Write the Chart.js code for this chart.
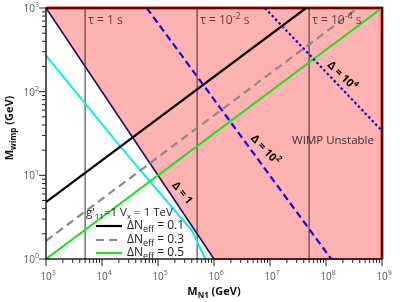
<!DOCTYPE html>
<html>
<head>
<meta charset="utf-8">
<script src="https://cdn.jsdelivr.net/npm/chart.js@4.4.0/dist/chart.umd.min.js"></script>
<style>
  html, body { margin: 0; padding: 0; background: #fff; }
  #wrap { width: 415px; height: 302px; }
</style>
</head>
<body>
<div id="wrap"><canvas id="chart"></canvas></div>
<script>
// ── Data (log-log axes in GeV) ───────────────────────────────────────────────
const X_RANGE = [1e3, 1e9];
const Y_RANGE = [1, 1e3];

// WIMP unstable region: boundary Δ = 1 then along the bottom edge
const unstableEdge     = [{ x: 1e3, y: 1e3 }, { x: 1e6, y: 1 }, { x: 1e9, y: 1 }];
const unstableTopRight = [{ x: 1e3, y: 1e3 }, { x: 1e9, y: 1e3 }, { x: 1e9, y: 1 }];

const neff01   = [{ x: 1e3, y: 4.8 },  { x: 4.4e7, y: 1e3 }];
const neff03   = [{ x: 1e3, y: 1.65 }, { x: 3.7e8, y: 1e3 }];
const neff05   = [{ x: 1e3, y: 1 },    { x: 1e9,   y: 1e3 }];
const cyanLine = [{ x: 1e3, y: 270 },  { x: 2.4e4, y: 20 }, { x: 4.0e5, y: 2.2 }, { x: 7.0e5, y: 1 }];
const delta1e2 = [{ x: 6.3e4, y: 1e3 }, { x: 1.24e8, y: 1 }];
const delta1e4 = [{ x: 8.1e6, y: 1e3 }, { x: 1e9, y: 34 }];

const tauMasses = [5e3, 5e5, 5e7];
const tauLabels = [
    [['τ = 1 s', 0]],
    [['τ = 10', 0], ['-2', 1], [' s', 0]],
    [['τ = 10', 0], ['-4', 1], [' s', 0]],
];
const legendNames = ['0.1', '0.3', '0.5'];
const minorSteps  = [2, 3, 4, 5, 6, 7, 8, 9];

// ── Colours ───────────────────────────────────────────────────────────────────
const PINK  = '#ffb2b2';
const RED   = '#ee1c1c';
const NAVY  = '#22105e';
const FONT  = "'Open Sans', 'Noto Sans', sans-serif";

// ── Helper — draw text with sub/superscripts ──────────────────────────────────
// parts: [text, kind]  kind 0 = normal, 1 = superscript, -1 = subscript
function richText(ctx, parts, x, y, align, size, weight = '400') {
    const fontFor = (k) => `${weight} ${k ? Math.round(size * 0.72) : size}px ${FONT}`;
    let width = 0;
    parts.forEach(([t, k]) => { ctx.font = fontFor(k); width += ctx.measureText(t).width; });
    let cx = align === 'center' ? x - width / 2 : align === 'right' ? x - width : x;
    ctx.textAlign = 'left';
    ctx.textBaseline = 'middle';
    parts.forEach(([t, k]) => {
        ctx.font = fontFor(k);
        const dy = k === 1 ? -size * 0.38 : k === -1 ? size * 0.32 : 0;
        ctx.fillText(t, cx, y + dy);
        cx += ctx.measureText(t).width;
    });
}

function line(data, color, width, dash, order) {
    return {
        data, borderColor: color, borderWidth: width, borderDash: dash || [],
        pointRadius: 0, fill: false, tension: 0, order,
    };
}

// ── Overlay: ticks, tick labels, frame, annotations, legend, axis titles ──────
const overlay = {
    id: 'overlay',
    afterDraw(chart) {
        const { ctx, chartArea: a, scales: { x, y } } = chart;
        ctx.save();

        // frame
        ctx.strokeStyle = '#000';
        ctx.lineWidth = 1.3;
        ctx.strokeRect(a.left, a.top, a.right - a.left, a.bottom - a.top);

        // ticks: majors at each decade, minors at 2..9
        const decades = (scale) => {
            const lo = Math.round(Math.log10(scale.min)), hi = Math.round(Math.log10(scale.max));
            const out = [];
            for (let e = lo; e <= hi; e++) out.push(e);
            return out;
        };
        ctx.lineWidth = 1;
        ctx.strokeStyle = '#222';
        const tickX = (v, len) => {
            const px = x.getPixelForValue(v);
            ctx.beginPath(); ctx.moveTo(px, a.bottom); ctx.lineTo(px, a.bottom + len); ctx.stroke();
        };
        const tickY = (v, len) => {
            const py = y.getPixelForValue(v);
            ctx.beginPath(); ctx.moveTo(a.left, py); ctx.lineTo(a.left - len, py); ctx.stroke();
        };
        decades(x).forEach((e, i, arr) => {
            tickX(Math.pow(10, e), 7);
            if (i < arr.length - 1) minorSteps.forEach((m) => tickX(m * Math.pow(10, e), 4));
        });
        decades(y).forEach((e, i, arr) => {
            tickY(Math.pow(10, e), 7);
            if (i < arr.length - 1) minorSteps.forEach((m) => tickY(m * Math.pow(10, e), 4));
        });

        // tick labels
        ctx.fillStyle = '#555';
        decades(x).forEach((e) => {
            richText(ctx, [['10', 0], [String(e), 1]], x.getPixelForValue(Math.pow(10, e)) + 2, a.bottom + 18, 'center', 10);
        });
        decades(y).forEach((e) => {
            richText(ctx, [['10', 0], [String(e), 1]], a.left - 7, y.getPixelForValue(Math.pow(10, e)) + 1, 'right', 10);
        });

        // lifetime labels
        ctx.fillStyle = 'rgba(0,0,0,0.66)';
        tauMasses.forEach((m, i) => {
            richText(ctx, tauLabels[i], x.getPixelForValue(m) + 3, a.top + 13, 'left', 12);
        });

        ctx.fillStyle = '#333';
        richText(ctx, [['WIMP Unstable', 0]], 333, 141, 'center', 11.5);

        // rotated Δ labels
        ctx.fillStyle = '#000';
        const rotLabel = (parts, cx, cy, deg) => {
            ctx.save();
            ctx.translate(cx, cy);
            ctx.rotate(deg * Math.PI / 180);
            richText(ctx, parts, 0, 0, 'center', 11, '700');
            ctx.restore();
        };
        rotLabel([['Δ = 1', 0]], 182, 193, 50);
        rotLabel([['Δ = 10', 0], ['2', 1]], 265, 150, 47);
        rotLabel([['Δ = 10', 0], ['4', 1]], 342, 76, 44);

        // legend
        ctx.fillStyle = '#222';
        richText(ctx, [["g'", 0], ['11', -1], ['=1 V', 0], ['x', -1], [' = 1 TeV', 0]], 86, 213, 'left', 11.5);
        const styles = [
            { c: '#000', d: [] },
            { c: '#888', d: [8, 5] },
            { c: '#22e022', d: [] },
        ];
        [226, 240, 253].forEach((ly, i) => {
            ctx.strokeStyle = styles[i].c;
            ctx.lineWidth = 2.2;
            ctx.setLineDash(styles[i].d);
            ctx.beginPath(); ctx.moveTo(96, ly); ctx.lineTo(122, ly); ctx.stroke();
            ctx.setLineDash([]);
            richText(ctx, [['ΔN', 0], ['eff', -1], [' = ' + legendNames[i], 0]], 127, ly, 'left', 12);
        });

        // axis titles
        ctx.fillStyle = '#111';
        richText(ctx, [['M', 0], ['N1', -1], [' (GeV)', 0]], 214, 292, 'center', 11, '700');
        ctx.save();
        ctx.translate(10, 128);
        ctx.rotate(-Math.PI / 2);
        richText(ctx, [['M', 0], ['wimp', -1], [' (GeV)', 0]], 0, 0, 'center', 11, '700');
        ctx.restore();

        ctx.restore();
    },
};

// ── Chart ─────────────────────────────────────────────────────────────────────
new Chart(document.getElementById('chart'), {
    type: 'line',
    data: {
        datasets: [
            {
                data: unstableEdge,
                fill: 'end',
                backgroundColor: PINK,
                borderWidth: 1.6,
                segment: { borderColor: (c) => (c.p0DataIndex === 0 ? NAVY : RED) },
                borderColor: RED,
                pointRadius: 0,
                tension: 0,
                clip: false,
                order: 30,
            },
            { ...line(unstableTopRight, RED, 3, [], 29), clip: false },
            ...tauMasses.map((m) => line([{ x: m, y: Y_RANGE[0] }, { x: m, y: Y_RANGE[1] }], 'rgba(40,40,40,0.7)', 1.4, [], 20)),
            line(cyanLine, '#1fe6ee', 2.2, [], 10),
            line(neff05,   '#22e022', 2.2, [], 9),
            line(neff03,   '#8a8a8a', 2.2, [8, 5], 8),
            line(neff01,   '#000000', 2.2, [], 7),
            line(delta1e2, '#0a0ae6', 2.2, [7, 4], 6),
            line(delta1e4, '#0a0ad0', 2.2, [2.5, 2.5], 5),
        ],
    },
    options: {
        responsive: true,
        maintainAspectRatio: false,
        animation: false,
        layout: { padding: { top: 8, right: 33, left: 0, bottom: 0 } },
        plugins: { legend: { display: false }, tooltip: { enabled: false } },
        scales: {
            x: {
                type: 'logarithmic',
                min: X_RANGE[0], max: X_RANGE[1],
                grid: { display: false },
                border: { display: false },
                ticks: { display: false, autoSkip: false },
                afterFit: (s) => { s.height = 43; },
            },
            y: {
                type: 'logarithmic',
                min: Y_RANGE[0], max: Y_RANGE[1],
                grid: { display: false },
                border: { display: false },
                ticks: { display: false, autoSkip: false },
                afterFit: (s) => { s.width = 46; },
            },
        },
    },
    plugins: [overlay],
});
</script>
</body>
</html>
